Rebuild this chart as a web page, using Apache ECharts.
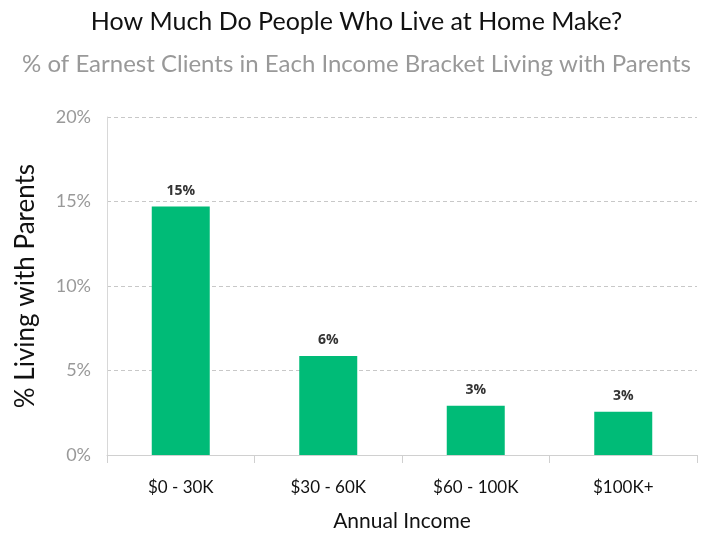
<!DOCTYPE html>
<html><head><meta charset="utf-8">
<script src="https://cdn.jsdelivr.net/npm/echarts@6/dist/echarts.min.js"></script>
<style>html,body{margin:0;padding:0;background:#fff}#c{width:713px;height:533px}</style>
</head><body><div id="c"></div>
<script>
const categories = ['$0 - 30K', '$30 - 60K', '$60 - 100K', '$100K+'];
const values = [14.7, 5.86, 2.92, 2.56];
const yTicks = [0, 5, 10, 15, 20];

const chart = echarts.init(document.getElementById('c'));
chart.setOption({
  animation: false,
  title: [
    {text: 'How Much Do People Who Live at Home Make?', left: 'center', top: 4,
     textStyle: {fontFamily: 'Lato', fontSize: 25, fontWeight: 'normal', color: '#111'}},
    {text: '% of Earnest Clients in Each Income Bracket Living with Parents', left: 'center', top: 47,
     textStyle: {fontFamily: 'Lato', fontSize: 24, fontWeight: 'normal', color: '#999'}}
  ],
  grid: {left: 107, right: 16, top: 117, bottom: 78, containLabel: false, outerBoundsMode: 'none'},
  xAxis: {
    type: 'category', data: categories,
    name: 'Annual Income', nameLocation: 'middle', nameGap: 56,
    nameTextStyle: {fontFamily: 'Lato', fontSize: 21, color: '#111'},
    axisLine: {show: true, lineStyle: {color: '#d0d0d0'}},
    axisTick: {show: true, length: 8, lineStyle: {color: '#d0d0d0'}},
    axisLabel: {fontFamily: 'Lato', fontSize: 17, color: '#111', margin: 24}
  },
  yAxis: {
    type: 'value', min: yTicks[0], max: yTicks[yTicks.length - 1], interval: 5,
    name: '% Living with Parents', nameLocation: 'middle', nameGap: 68, nameRotate: 90,
    nameTextStyle: {fontFamily: 'Lato', fontSize: 26, color: '#111'},
    axisLine: {show: true, lineStyle: {color: '#d8d8d8'}},
    axisTick: {show: false},
    axisLabel: {formatter: v => v + '%', fontFamily: 'Lato', fontSize: 18, color: '#999', margin: 16},
    splitLine: {show: true, lineStyle: {color: '#c8c8c8', type: [4, 3]}}
  },
  series: [{
    type: 'bar', data: values, barWidth: 58,
    itemStyle: {color: '#00BB77'},
    label: {show: true, position: 'top', distance: 9, formatter: p => Math.round(p.value) + '%',
      fontFamily: 'Open Sans', fontSize: 14, fontWeight: 'bold', color: '#333'}
  }]
});
</script></body></html>
